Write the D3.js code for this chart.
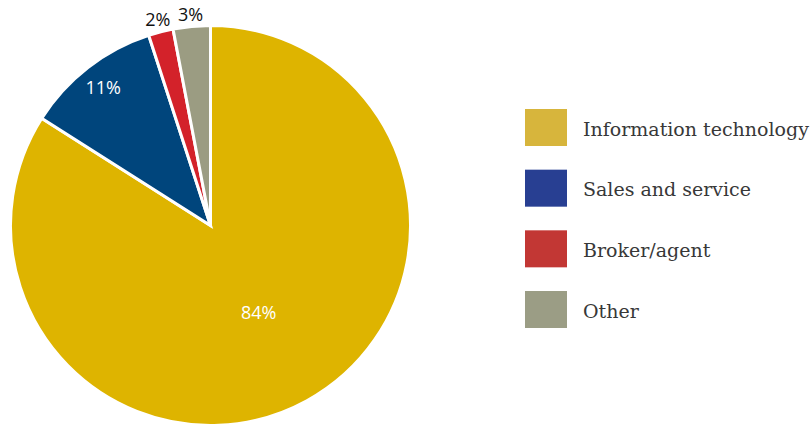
<!DOCTYPE html>
<html>
<head>
<meta charset="utf-8">
<script src="https://cdn.jsdelivr.net/npm/d3@7/dist/d3.min.js"></script>
<style>
  html, body { margin: 0; padding: 0; background: #fff; }
  svg { display: block; }
</style>
</head>
<body>
<svg id="chart" width="812" height="425"></svg>
<script>
// Share of respondents by occupation
const categories = ["Information technology", "Sales and service", "Broker/agent", "Other"];
const values = [84, 11, 2, 3];
const valueLabels = ["84%", "11%", "2%", "3%"];
const sliceColors = ["#DEB400", "#00457C", "#D3222A", "#9B9C82"];
const legendColors = ["#D7B53C", "#283F92", "#C23734", "#9B9D85"];

const W = 812, H = 425;
const cx = 210.5, cy = 225.5, R = 200;

const svg = d3.select("#chart");
const g = svg.append("g").attr("transform", `translate(${cx},${cy})`);

const pie = d3.pie().sort(null).value(d => d)
  .startAngle(0).endAngle(2 * Math.PI);
const arcs = pie(values);

const arc = d3.arc().innerRadius(0).outerRadius(R);

g.selectAll("path.slice")
  .data(arcs)
  .join("path")
  .attr("class", "slice")
  .attr("d", arc)
  .attr("fill", (d, i) => sliceColors[i])
  .attr("stroke", "#fff")
  .attr("stroke-width", 3)
  .attr("stroke-linejoin", "miter");

// label radius per slice: big slices inside, thin slices just outside the rim
const labelRadius = d => {
  const share = (d.endAngle - d.startAngle) / (2 * Math.PI);
  if (share > 0.5) return R * 0.5;
  if (share > 0.05) return R * 0.875;
  return R * 1.06;
};
const labelColor = d => ((d.endAngle - d.startAngle) / (2 * Math.PI) > 0.05 ? "#fff" : "#111");

g.selectAll("text.pct")
  .data(arcs)
  .join("text")
  .attr("class", "pct")
  .attr("transform", d => {
    const a = (d.startAngle + d.endAngle) / 2;
    const r = labelRadius(d);
    return `translate(${Math.sin(a) * r},${-Math.cos(a) * r})`;
  })
  .attr("text-anchor", "middle")
  .attr("dy", "0.35em")
  .attr("font-family", "'Open Sans', 'Noto Sans', sans-serif")
  .attr("font-size", 18)
  .attr("fill", labelColor)
  .text((d, i) => valueLabels[i]);

// legend
const legendY = d3.scaleLinear().domain([0, 3]).range([109, 291]);
const legend = svg.append("g").attr("class", "legend");
const items = legend.selectAll("g")
  .data(categories)
  .join("g")
  .attr("transform", (d, i) => `translate(525,${legendY(i)})`);

items.append("rect")
  .attr("width", 42)
  .attr("height", 37)
  .attr("fill", (d, i) => legendColors[i]);

items.append("text")
  .attr("x", 58)
  .attr("y", 26.5)
  .attr("font-family", "'DejaVu Serif', 'Liberation Serif', serif")
  .attr("font-size", 19)
  .attr("fill", "#383838")
  .text(d => d);
</script>
</body>
</html>
